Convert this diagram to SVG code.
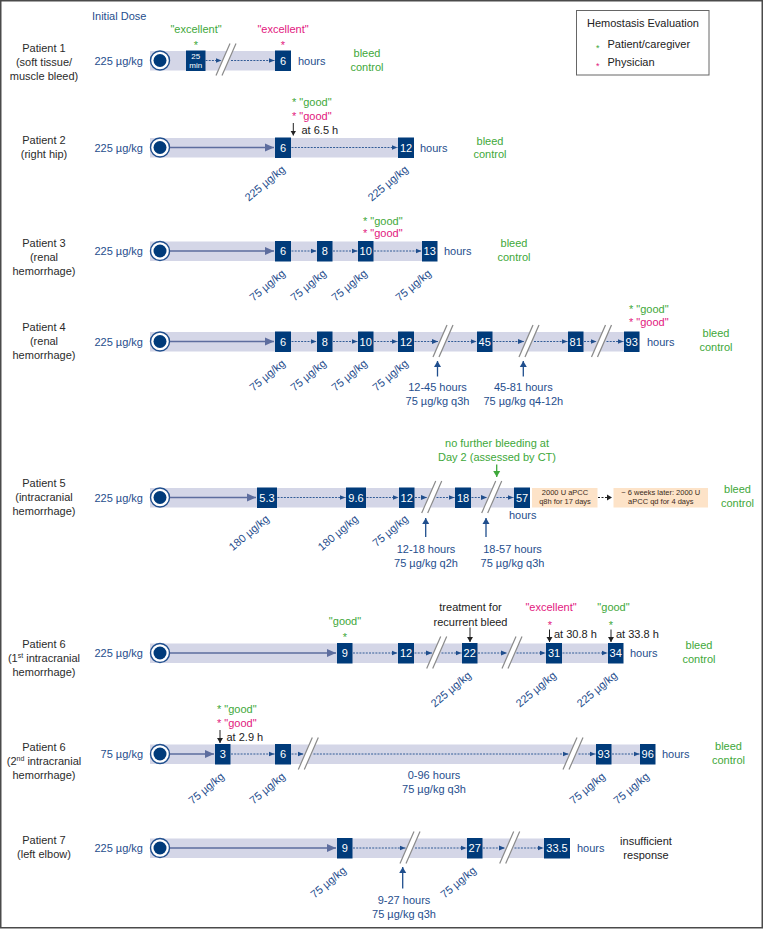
<svg xmlns="http://www.w3.org/2000/svg" xmlns:xlink="http://www.w3.org/1999/xlink" width="764" height="930" viewBox="0 0 764 930">
<style>
text{font-family:"Liberation Sans",Arial,Helvetica,sans-serif;font-size:11px}
.bar{fill:#d4d6e7}
.box{fill:#003b7a}
.bt{fill:#fff;text-anchor:middle}
.sm{font-size:8px}
.ast{font-size:9px}
.blue{fill:#1f4e8d}
.lbl{fill:#2b2b2b;text-anchor:middle}
.dk{fill:#222}
.grn{fill:#3ea83a}
.pnk{fill:#e2177e}
.mid{text-anchor:middle}
.end{text-anchor:end}
.dash{stroke:#1f4e8d;stroke-width:0.9;stroke-dasharray:2 1.2;fill:none}
.solid{stroke:#5d6d9e;stroke-width:1.6;fill:none}
.blk{stroke:#222;stroke-width:1;fill:none}
.nav{stroke:#1f4e8d;stroke-width:1.3;fill:none}
.gar{stroke:#3ea83a;stroke-width:1.3;fill:none}
.brkl{stroke:#8a8a8a;stroke-width:1.2}
.ob{fill:#fde3c8}
.ot{font-size:7.5px;fill:#3a2a1a;text-anchor:middle}
</style>
<defs>
<marker id="mD" markerUnits="userSpaceOnUse" markerWidth="6" markerHeight="6" refX="6" refY="3" orient="auto"><path d="M0,0.5 L6,3 L0,5.5 z" fill="#1f4e8d"/></marker>
<marker id="mS" markerUnits="userSpaceOnUse" markerWidth="10" markerHeight="9" refX="9" refY="4.5" orient="auto"><path d="M0,0.5 L9,4.5 L0,8.5 z" fill="#5d6d9e"/></marker>
<marker id="mK" markerUnits="userSpaceOnUse" markerWidth="6" markerHeight="7" refX="5" refY="3.5" orient="auto"><path d="M0,0.5 L5,3.5 L0,6.5 z" fill="#222"/></marker>
<marker id="mN" markerUnits="userSpaceOnUse" markerWidth="7" markerHeight="8" refX="6" refY="4" orient="auto"><path d="M0,0.5 L6,4 L0,7.5 z" fill="#1f4e8d"/></marker>
<marker id="mG" markerUnits="userSpaceOnUse" markerWidth="7" markerHeight="8" refX="6" refY="4" orient="auto"><path d="M0,0.5 L6,4 L0,7.5 z" fill="#3ea83a"/></marker>
<g id="brk"><polygon points="4,-16 10,-16 -4,16 -10,16" fill="#fff"/><line class="brkl" x1="4" y1="-16" x2="-10" y2="16"/><line class="brkl" x1="10" y1="-16" x2="-4" y2="16"/></g>
<g id="st"><circle r="9.5" fill="#fff" stroke="#1f4e8d" stroke-width="1.4"/><circle r="6.5" fill="#003b7a"/></g>
</defs>
<rect x="0.75" y="0.75" width="761.5" height="927" fill="#fff" stroke="#4a4a4a" stroke-width="1.5"/>

<text class="blue" x="92" y="20">Initial Dose</text>

<g id="legend">
<rect x="576.5" y="10.5" width="132.5" height="64.5" fill="#fff" stroke="#666" stroke-width="1"/>
<text class="dk" x="587" y="27.3">Hemostasis Evaluation</text>
<text class="grn ast" x="596" y="50.5">*</text>
<text class="dk" x="607.5" y="48">Patient/caregiver</text>
<text class="pnk ast" x="596" y="68.5">*</text>
<text class="dk" x="607.5" y="66">Physician</text>
</g>

<!-- Patient 1 -->
<g id="p1">
<text class="lbl" x="44" y="51.5">Patient 1</text>
<text class="lbl" x="44" y="65.5">(soft tissue/</text>
<text class="lbl" x="44" y="79.5">muscle bleed)</text>
<text class="blue end" x="143" y="65">225 µg/kg</text>
<rect class="bar" x="150" y="51" width="141" height="19.5"/>
<use xlink:href="#st" x="160" y="60.5"/>
<g id="p1-n25"><rect class="box" x="186" y="50.5" width="19.5" height="20.5"/><text class="bt sm" x="195.7" y="58.8">25</text><text class="bt sm" x="195.7" y="68.3">min</text></g>
<use xlink:href="#brk" x="226" y="59.5"/>
<g id="p1-n6"><rect class="box" x="275" y="50.5" width="16" height="20.5"/><text class="bt" x="283" y="64.5">6</text></g>
<text class="blue" x="298" y="65">hours</text>
<text class="grn mid" x="196" y="33">"excellent"</text>
<text class="grn mid" x="196" y="48.5">*</text>
<text class="pnk mid" x="283" y="33">"excellent"</text>
<text class="pnk mid" x="283" y="48.5">*</text>
<text class="grn mid" x="367" y="56.5">bleed</text>
<text class="grn mid" x="367" y="70.5">control</text>
</g>

<!-- Patient 2 -->
<g id="p2">
<text class="lbl" x="44" y="144">Patient 2</text>
<text class="lbl" x="44" y="158">(right hip)</text>
<text class="blue end" x="143" y="151.5">225 µg/kg</text>
<rect class="bar" x="150" y="138" width="264" height="19.5"/>
<use xlink:href="#st" x="160" y="147.5"/>
<g id="p2-n6"><rect class="box" x="275" y="137.5" width="16" height="20.5"/><text class="bt" x="283" y="151.5">6</text></g>
<g id="p2-n12"><rect class="box" x="398" y="137.5" width="16" height="20.5"/><text class="bt" x="406" y="151.5">12</text></g>
<text class="blue" x="420" y="151.5">hours</text>
<text class="grn" x="292" y="105.5">* "good"</text>
<text class="pnk" x="292" y="120">* "good"</text>
<text class="dk" x="301.5" y="134">at 6.5 h</text>
<text class="grn mid" x="490" y="144.5">bleed</text>
<text class="grn mid" x="490" y="158">control</text>
<text class="blue end" transform="translate(286,170.5) rotate(-40)">225 µg/kg</text>
<text class="blue end" transform="translate(409,170.5) rotate(-40)">225 µg/kg</text>
</g>

<!-- Patient 3 -->
<g id="p3">
<text class="lbl" x="44" y="247.3">Patient 3</text>
<text class="lbl" x="44" y="261.3">(renal</text>
<text class="lbl" x="44" y="275">hemorrhage)</text>
<text class="blue end" x="143" y="255">225 µg/kg</text>
<rect class="bar" x="150" y="241.5" width="287" height="19.5"/>
<use xlink:href="#st" x="160" y="251"/>
<g id="p3-n6"><rect class="box" x="275" y="241" width="16" height="20.5"/><text class="bt" x="283" y="255">6</text></g>
<g id="p3-n8"><rect class="box" x="317" y="241" width="15.5" height="20.5"/><text class="bt" x="324.7" y="255">8</text></g>
<g id="p3-n10"><rect class="box" x="358" y="241" width="15.5" height="20.5"/><text class="bt" x="365.7" y="255">10</text></g>
<g id="p3-n13"><rect class="box" x="422" y="241" width="15.5" height="20.5"/><text class="bt" x="429.7" y="255">13</text></g>
<text class="blue" x="444" y="255">hours</text>
<text class="grn" x="363" y="224.5">* "good"</text>
<text class="pnk" x="363" y="237">* "good"</text>
<text class="grn mid" x="514" y="247.3">bleed</text>
<text class="grn mid" x="514" y="261.3">control</text>
<text class="blue end" transform="translate(286,274.5) rotate(-40)">75 µg/kg</text>
<text class="blue end" transform="translate(327,274.5) rotate(-40)">75 µg/kg</text>
<text class="blue end" transform="translate(368,274.5) rotate(-40)">75 µg/kg</text>
<text class="blue end" transform="translate(432,274.5) rotate(-40)">75 µg/kg</text>
</g>

<!-- Patient 4 -->
<g id="p4">
<text class="lbl" x="44" y="331.3">Patient 4</text>
<text class="lbl" x="44" y="345.3">(renal</text>
<text class="lbl" x="44" y="359.3">hemorrhage)</text>
<text class="blue end" x="143" y="345.5">225 µg/kg</text>
<rect class="bar" x="150" y="332" width="489.5" height="19.5"/>
<use xlink:href="#st" x="160" y="341.5"/>
<g id="p4-n6"><rect class="box" x="275" y="331.5" width="16" height="20.5"/><text class="bt" x="283" y="345.5">6</text></g>
<g id="p4-n8"><rect class="box" x="317" y="331.5" width="15.5" height="20.5"/><text class="bt" x="324.7" y="345.5">8</text></g>
<g id="p4-n10"><rect class="box" x="358" y="331.5" width="15.5" height="20.5"/><text class="bt" x="365.7" y="345.5">10</text></g>
<g id="p4-n12"><rect class="box" x="398" y="331.5" width="16" height="20.5"/><text class="bt" x="406" y="345.5">12</text></g>
<use xlink:href="#brk" x="443" y="341"/>
<g id="p4-n45"><rect class="box" x="477" y="331.5" width="15.5" height="20.5"/><text class="bt" x="484.7" y="345.5">45</text></g>
<use xlink:href="#brk" x="529" y="341"/>
<g id="p4-n81"><rect class="box" x="568" y="331.5" width="15.5" height="20.5"/><text class="bt" x="575.7" y="345.5">81</text></g>
<use xlink:href="#brk" x="601.5" y="341"/>
<g id="p4-n93"><rect class="box" x="624" y="331.5" width="15.5" height="20.5"/><text class="bt" x="631.7" y="345.5">93</text></g>
<text class="blue" x="647" y="345.5">hours</text>
<text class="grn" x="629" y="313">* "good"</text>
<text class="pnk" x="629" y="326.3">* "good"</text>
<text class="grn mid" x="716" y="336.5">bleed</text>
<text class="grn mid" x="716" y="350.5">control</text>
<text class="blue end" transform="translate(286,364.5) rotate(-40)">75 µg/kg</text>
<text class="blue end" transform="translate(327,364.5) rotate(-40)">75 µg/kg</text>
<text class="blue end" transform="translate(368,364.5) rotate(-40)">75 µg/kg</text>
<text class="blue end" transform="translate(409,364.5) rotate(-40)">75 µg/kg</text>
<text class="blue mid" x="437.5" y="390.5">12-45 hours</text>
<text class="blue mid" x="437.5" y="404.5">75 µg/kg q3h</text>
<text class="blue mid" x="523.3" y="390.5">45-81 hours</text>
<text class="blue mid" x="523.3" y="404.5">75 µg/kg q4-12h</text>
</g>

<!-- Patient 5 -->
<g id="p5">
<text class="lbl" x="44" y="487.3">Patient 5</text>
<text class="lbl" x="44" y="501.3">(intracranial</text>
<text class="lbl" x="44" y="515">hemorrhage)</text>
<text class="blue end" x="143" y="501.5">225 µg/kg</text>
<rect class="bar" x="150" y="488" width="380" height="19.5"/>
<use xlink:href="#st" x="160" y="497.5"/>
<g id="p5-n5_3"><rect class="box" x="257" y="487.5" width="20" height="20.5"/><text class="bt" x="267" y="501.5">5.3</text></g>
<g id="p5-n9_6"><rect class="box" x="346" y="487.5" width="20" height="20.5"/><text class="bt" x="356" y="501.5">9.6</text></g>
<g id="p5-n12"><rect class="box" x="399" y="487.5" width="15.5" height="20.5"/><text class="bt" x="406.7" y="501.5">12</text></g>
<use xlink:href="#brk" x="431.7" y="497"/>
<g id="p5-n18"><rect class="box" x="455" y="487.5" width="16" height="20.5"/><text class="bt" x="463" y="501.5">18</text></g>
<use xlink:href="#brk" x="491.7" y="497"/>
<g id="p5-n57"><rect class="box" x="514" y="487.5" width="16" height="20.5"/><text class="bt" x="522" y="501.5">57</text></g>
<text class="blue mid" x="522.7" y="519">hours</text>
<g id="p5-apcc1"><rect class="ob" x="532" y="488" width="65.5" height="19.5"/><text class="ot" x="565" y="495.3">2000 U aPCC</text><text class="ot" x="565" y="504.3">q8h for 17 days</text></g>
<g id="p5-apcc2"><rect class="ob" x="613.5" y="488" width="94.5" height="19.5"/><text class="ot" x="660.8" y="495.3">~ 6 weeks later: 2000 U</text><text class="ot" x="660.8" y="504.3">aPCC qd for 4 days</text></g>
<text class="grn mid" x="737.5" y="493">bleed</text>
<text class="grn mid" x="737.5" y="506.5">control</text>
<text class="grn mid" x="497" y="447">no further bleeding at</text>
<text class="grn mid" x="497" y="461">Day 2 (assessed by CT)</text>
<text class="blue end" transform="translate(270,520) rotate(-40)">180 µg/kg</text>
<text class="blue end" transform="translate(359,520) rotate(-40)">180 µg/kg</text>
<text class="blue end" transform="translate(409,520) rotate(-40)">75 µg/kg</text>
<text class="blue mid" x="426" y="553">12-18 hours</text>
<text class="blue mid" x="426" y="567">75 µg/kg q2h</text>
<text class="blue mid" x="512.5" y="553">18-57 hours</text>
<text class="blue mid" x="512.5" y="567">75 µg/kg q3h</text>
</g>

<!-- Patient 6 (1st) -->
<g id="p6a">
<text class="lbl" x="44" y="648.3">Patient 6</text>
<text class="lbl" x="44" y="662.3">(1<tspan style="font-size:7px" dy="-4">st</tspan><tspan dy="4"> intracranial</tspan></text>
<text class="lbl" x="44" y="676">hemorrhage)</text>
<text class="blue end" x="143" y="657">225 µg/kg</text>
<rect class="bar" x="150" y="643.5" width="473" height="19.5"/>
<use xlink:href="#st" x="160" y="653"/>
<g id="p6a-n9"><rect class="box" x="337" y="643" width="15.5" height="20.5"/><text class="bt" x="344.7" y="657">9</text></g>
<g id="p6a-n12"><rect class="box" x="398" y="643" width="16" height="20.5"/><text class="bt" x="406" y="657">12</text></g>
<use xlink:href="#brk" x="436.7" y="652.5"/>
<g id="p6a-n22"><rect class="box" x="462" y="643" width="15.5" height="20.5"/><text class="bt" x="469.7" y="657">22</text></g>
<use xlink:href="#brk" x="512" y="652.5"/>
<g id="p6a-n31"><rect class="box" x="546" y="643" width="16" height="20.5"/><text class="bt" x="554" y="657">31</text></g>
<g id="p6a-n34"><rect class="box" x="608" y="643" width="15.5" height="20.5"/><text class="bt" x="615.7" y="657">34</text></g>
<text class="blue" x="630" y="657">hours</text>
<text class="grn mid" x="345" y="625.2">"good"</text>
<text class="grn mid" x="345" y="641">*</text>
<text class="dk mid" x="470.5" y="611">treatment for</text>
<text class="dk mid" x="470.5" y="625.5">recurrent bleed</text>
<text class="pnk mid" x="551" y="611">"excellent"</text>
<text class="pnk mid" x="550" y="629">*</text>
<text class="dk" x="554" y="638">at 30.8 h</text>
<text class="grn mid" x="613.5" y="611">"good"</text>
<text class="grn mid" x="611" y="629">*</text>
<text class="dk" x="616" y="638">at 33.8 h</text>
<text class="grn mid" x="699" y="649">bleed</text>
<text class="grn mid" x="699" y="663">control</text>
<text class="blue end" transform="translate(472,676.5) rotate(-40)">225 µg/kg</text>
<text class="blue end" transform="translate(557,676.5) rotate(-40)">225 µg/kg</text>
<text class="blue end" transform="translate(618,676.5) rotate(-40)">225 µg/kg</text>
</g>

<!-- Patient 6 (2nd) -->
<g id="p6b">
<text class="lbl" x="44" y="750.7">Patient 6</text>
<text class="lbl" x="44" y="764.7">(2<tspan style="font-size:7px" dy="-4">nd</tspan><tspan dy="4"> intracranial</tspan></text>
<text class="lbl" x="44" y="778.5">hemorrhage)</text>
<text class="blue end" x="143" y="758">75 µg/kg</text>
<rect class="bar" x="150" y="744.5" width="505" height="19.5"/>
<use xlink:href="#st" x="160" y="754"/>
<g id="p6b-n3"><rect class="box" x="215" y="744" width="15.5" height="20.5"/><text class="bt" x="222.7" y="758">3</text></g>
<g id="p6b-n6"><rect class="box" x="275" y="744" width="16" height="20.5"/><text class="bt" x="283" y="758">6</text></g>
<use xlink:href="#brk" x="308.3" y="753.5"/>
<use xlink:href="#brk" x="573" y="753.5"/>
<g id="p6b-n93"><rect class="box" x="596" y="744" width="15.5" height="20.5"/><text class="bt" x="603.7" y="758">93</text></g>
<g id="p6b-n96"><rect class="box" x="640" y="744" width="15.5" height="20.5"/><text class="bt" x="647.7" y="758">96</text></g>
<text class="blue" x="662" y="758">hours</text>
<text class="grn" x="217" y="712.8">* "good"</text>
<text class="pnk" x="217" y="726.8">* "good"</text>
<text class="dk" x="226.5" y="740.7">at 2.9 h</text>
<text class="grn mid" x="728.5" y="750">bleed</text>
<text class="grn mid" x="728.5" y="764">control</text>
<text class="blue mid" x="434" y="779">0-96 hours</text>
<text class="blue mid" x="434" y="793">75 µg/kg q3h</text>
<text class="blue end" transform="translate(225,777.5) rotate(-40)">75 µg/kg</text>
<text class="blue end" transform="translate(286,777.5) rotate(-40)">75 µg/kg</text>
<text class="blue end" transform="translate(606,777.5) rotate(-40)">75 µg/kg</text>
<text class="blue end" transform="translate(650,777.5) rotate(-40)">75 µg/kg</text>
</g>

<!-- Patient 7 -->
<g id="p7">
<text class="lbl" x="44" y="844">Patient 7</text>
<text class="lbl" x="44" y="858">(left elbow)</text>
<text class="blue end" x="143" y="852">225 µg/kg</text>
<rect class="bar" x="150" y="838.5" width="420" height="19.5"/>
<use xlink:href="#st" x="160" y="848"/>
<g id="p7-n9"><rect class="box" x="337" y="838" width="15.5" height="20.5"/><text class="bt" x="344.7" y="852">9</text></g>
<use xlink:href="#brk" x="410" y="847.5"/>
<g id="p7-n27"><rect class="box" x="467" y="838" width="15.5" height="20.5"/><text class="bt" x="474.7" y="852">27</text></g>
<use xlink:href="#brk" x="509.7" y="847.5"/>
<g id="p7-n33_5"><rect class="box" x="544" y="838" width="26" height="20.5"/><text class="bt" x="557" y="852">33.5</text></g>
<text class="blue" x="577" y="852">hours</text>
<text class="dk mid" x="646" y="845">insufficient</text>
<text class="dk mid" x="646" y="859">response</text>
<text class="blue end" transform="translate(347,871.5) rotate(-40)">75 µg/kg</text>
<text class="blue end" transform="translate(477,871.5) rotate(-40)">75 µg/kg</text>
<text class="blue mid" x="404" y="904">9-27 hours</text>
<text class="blue mid" x="404" y="918">75 µg/kg q3h</text>
</g>

<g id="connectors">
<!-- P1 -->
<line class="dash" x1="205.5" y1="60.5" x2="221.5" y2="60.5" marker-end="url(#mD)"/>
<line class="dash" x1="231" y1="60.5" x2="274.5" y2="60.5" marker-end="url(#mD)"/>
<!-- P2 -->
<line class="solid" x1="170" y1="147.5" x2="274" y2="147.5" marker-end="url(#mS)"/>
<line class="dash" x1="291.5" y1="147.5" x2="397.5" y2="147.5" marker-end="url(#mD)"/>
<line class="blk" x1="293.3" y1="123" x2="293.3" y2="135.5" marker-end="url(#mK)"/>
<!-- P3 -->
<line class="solid" x1="170" y1="251" x2="274" y2="251" marker-end="url(#mS)"/>
<line class="dash" x1="291.5" y1="251" x2="316.5" y2="251" marker-end="url(#mD)"/>
<line class="dash" x1="333" y1="251" x2="357.5" y2="251" marker-end="url(#mD)"/>
<line class="dash" x1="374" y1="251" x2="421.5" y2="251" marker-end="url(#mD)"/>
<!-- P4 -->
<line class="solid" x1="170" y1="341.5" x2="274" y2="341.5" marker-end="url(#mS)"/>
<line class="dash" x1="291.5" y1="341.5" x2="316.5" y2="341.5" marker-end="url(#mD)"/>
<line class="dash" x1="333" y1="341.5" x2="357.5" y2="341.5" marker-end="url(#mD)"/>
<line class="dash" x1="374" y1="341.5" x2="397.5" y2="341.5" marker-end="url(#mD)"/>
<line class="dash" x1="414.5" y1="341.5" x2="438" y2="341.5" marker-end="url(#mD)"/>
<line class="dash" x1="448" y1="341.5" x2="476.5" y2="341.5" marker-end="url(#mD)"/>
<line class="dash" x1="493" y1="341.5" x2="524" y2="341.5" marker-end="url(#mD)"/>
<line class="dash" x1="534" y1="341.5" x2="567.5" y2="341.5" marker-end="url(#mD)"/>
<line class="dash" x1="584" y1="341.5" x2="596.5" y2="341.5" marker-end="url(#mD)"/>
<line class="dash" x1="606.5" y1="341.5" x2="623.5" y2="341.5" marker-end="url(#mD)"/>
<line class="nav" x1="437.5" y1="376.5" x2="437.5" y2="361" marker-end="url(#mN)"/>
<line class="nav" x1="523.3" y1="376.5" x2="523.3" y2="361" marker-end="url(#mN)"/>
<!-- P5 -->
<line class="solid" x1="170" y1="497.5" x2="256" y2="497.5" marker-end="url(#mS)"/>
<line class="dash" x1="277.5" y1="497.5" x2="345.5" y2="497.5" marker-end="url(#mD)"/>
<line class="dash" x1="366.5" y1="497.5" x2="398.5" y2="497.5" marker-end="url(#mD)"/>
<line class="dash" x1="415" y1="497.5" x2="427" y2="497.5" marker-end="url(#mD)"/>
<line class="dash" x1="436.5" y1="497.5" x2="454.5" y2="497.5" marker-end="url(#mD)"/>
<line class="dash" x1="471.5" y1="497.5" x2="487" y2="497.5" marker-end="url(#mD)"/>
<line class="dash" x1="496.5" y1="497.5" x2="513.5" y2="497.5" marker-end="url(#mD)"/>
<line class="blk" x1="598" y1="497.5" x2="612" y2="497.5" stroke-dasharray="2 1.5" marker-end="url(#mK)"/>
<line class="gar" x1="496.7" y1="464.5" x2="496.7" y2="477" marker-end="url(#mG)"/>
<line class="nav" x1="425.7" y1="537" x2="425.7" y2="518" marker-end="url(#mN)"/>
<line class="nav" x1="486" y1="537" x2="486" y2="518" marker-end="url(#mN)"/>
<!-- P6a -->
<line class="solid" x1="170" y1="653" x2="336" y2="653" marker-end="url(#mS)"/>
<line class="dash" x1="353" y1="653" x2="397.5" y2="653" marker-end="url(#mD)"/>
<line class="dash" x1="414.5" y1="653" x2="432" y2="653" marker-end="url(#mD)"/>
<line class="dash" x1="441.5" y1="653" x2="461.5" y2="653" marker-end="url(#mD)"/>
<line class="dash" x1="478" y1="653" x2="507" y2="653" marker-end="url(#mD)"/>
<line class="dash" x1="516.5" y1="653" x2="545.5" y2="653" marker-end="url(#mD)"/>
<line class="dash" x1="562.5" y1="653" x2="607.5" y2="653" marker-end="url(#mD)"/>
<line class="blk" x1="470" y1="627.5" x2="470" y2="642" marker-end="url(#mK)"/>
<line class="blk" x1="549.5" y1="629.5" x2="549.5" y2="642" marker-end="url(#mK)"/>
<line class="blk" x1="611" y1="629.5" x2="611" y2="642" marker-end="url(#mK)"/>
<!-- P6b -->
<line class="solid" x1="170" y1="754" x2="214" y2="754" marker-end="url(#mS)"/>
<line class="dash" x1="231" y1="754" x2="274.5" y2="754" marker-end="url(#mD)"/>
<line class="dash" x1="291.5" y1="754" x2="303.5" y2="754" marker-end="url(#mD)"/>
<line class="dash" x1="313.5" y1="754" x2="568.5" y2="754" marker-end="url(#mD)"/>
<line class="dash" x1="578.5" y1="754" x2="595.5" y2="754" marker-end="url(#mD)"/>
<line class="dash" x1="612" y1="754" x2="639.5" y2="754" marker-end="url(#mD)"/>
<line class="blk" x1="220" y1="730" x2="220" y2="743" marker-end="url(#mK)"/>
<!-- P7 -->
<line class="solid" x1="170" y1="848" x2="336" y2="848" marker-end="url(#mS)"/>
<line class="dash" x1="353" y1="848" x2="405.5" y2="848" marker-end="url(#mD)"/>
<line class="dash" x1="415" y1="848" x2="466.5" y2="848" marker-end="url(#mD)"/>
<line class="dash" x1="483" y1="848" x2="505" y2="848" marker-end="url(#mD)"/>
<line class="dash" x1="514.5" y1="848" x2="543.5" y2="848" marker-end="url(#mD)"/>
<line class="nav" x1="402.7" y1="888.5" x2="402.7" y2="867" marker-end="url(#mN)"/>
</g>
</svg>
